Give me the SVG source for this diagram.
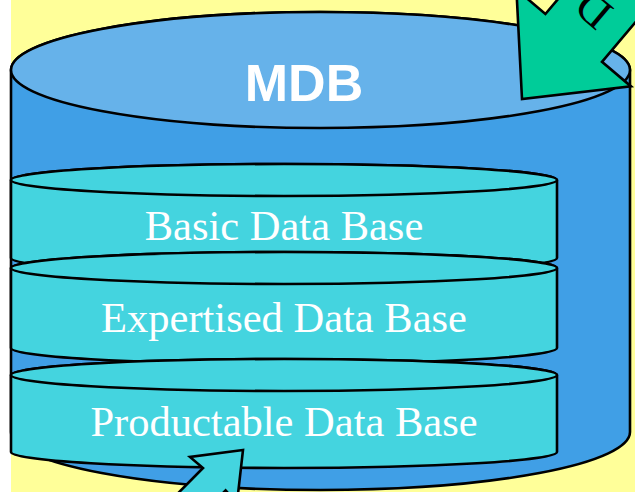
<svg xmlns="http://www.w3.org/2000/svg" width="635" height="492" viewBox="0 0 635 492">
<style>
.ln{stroke:#000;stroke-width:2.6;stroke-linejoin:miter}
.body{fill:#409FE6}
.top{fill:#66B2EA}
.cy{fill:#44D4DF}
.lbl{font-family:"Liberation Serif",serif;font-size:42.5px;fill:#fff;text-anchor:middle}
</style>
<rect x="0" y="0" width="635" height="492" fill="#fff"/>
<rect x="11" y="0" width="624" height="492" fill="#FFFF99"/>
<g id="mdb">
<path class="body ln" d="M11,70 L11,432 A309.5,58 0 0 0 630,432 L630,70 A309.5,58 0 0 0 11,70 Z"/>
<ellipse class="top ln" cx="320.5" cy="70" rx="309.5" ry="58"/>
<text x="304" y="101" font-family="Liberation Sans,Arial,sans-serif" font-weight="bold" font-size="52" fill="#fff" text-anchor="middle">MDB</text>
</g>
<g id="basic">
<path class="cy ln" d="M11,180 L11,258 A273,16 0 0 0 557,258 L557,180 A273,16 0 0 0 11,180 Z"/>
<ellipse class="cy ln" cx="284" cy="180" rx="273" ry="16"/>
<text class="lbl" x="284" y="240">Basic Data Base</text>
</g>
<g id="expertised">
<path class="cy ln" d="M11,268 L11,348 A273,16 0 0 0 557,348 L557,268 A273,16 0 0 0 11,268 Z"/>
<ellipse class="cy ln" cx="284" cy="268" rx="273" ry="16"/>
<text class="lbl" x="284" y="332">Expertised Data Base</text>
</g>
<g id="productable">
<path class="cy ln" d="M11,375 L11,452 A273,16 0 0 0 557,452 L557,375 A273,16 0 0 0 11,375 Z"/>
<ellipse class="cy ln" cx="284" cy="375" rx="273" ry="16"/>
<text class="lbl" x="284" y="436">Productable Data Base</text>
</g>
<g id="connectors">
<g id="arrow-in">
<polygon class="ln" fill="#00CC99" points="522,99 516.4,-10.6 545.4,14 642.3,-100.6 698.9,-52.8 602,61.8 631,86.4"/>
<text transform="translate(594,11) rotate(-140)" x="-15" y="15" font-family="Liberation Serif,serif" font-size="44" fill="#000">D</text>
</g>
<g id="arrow-out">
<polygon class="ln" fill="#44D4DF" points="243,450 190,457 203,468 132.8,539 155.4,561.6 225.6,490.4 237,503"/>
</g>
</g>
</svg>
